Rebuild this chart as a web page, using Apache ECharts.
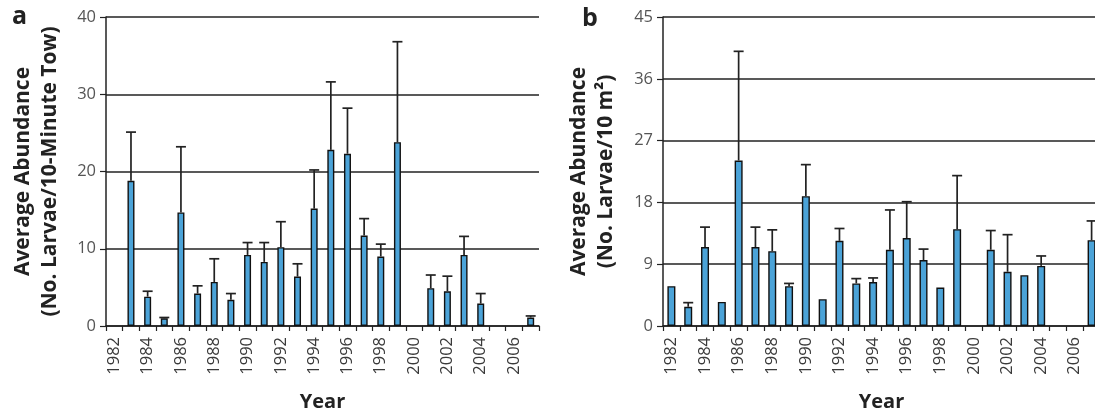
<!DOCTYPE html>
<html>
<head>
<meta charset="utf-8">
<script src="https://cdn.jsdelivr.net/npm/echarts@6/dist/echarts.min.js"></script>
<style>html,body{margin:0;padding:0;background:#fff}#c{width:1095px;height:417px}</style>
</head>
<body>
<div id="c"></div>
<script>
var years = ['1982','1983','1984','1985','1986','1987','1988','1989','1990','1991','1992','1993','1994','1995','1996','1997','1998','1999','2000','2001','2002','2003','2004','2005','2006','2007'];
var aMean = [null,18.8,3.8,1.0,14.7,4.2,5.7,3.4,9.2,8.3,10.2,6.4,15.2,22.8,22.3,11.7,9.0,23.8,null,4.9,4.5,9.2,2.9,null,null,1.1];
var aErr  = [null,6.3,0.7,0.1,8.5,1.0,3.0,0.8,1.6,2.5,3.3,1.65,5.0,8.8,5.9,2.2,1.6,13.0,null,1.7,1.95,2.4,1.3,null,null,0.2];
var bMean = [5.8,2.8,11.5,3.5,24.1,11.5,10.9,5.8,18.9,3.9,12.4,6.2,6.4,11.1,12.8,9.6,5.6,14.1,null,11.1,7.9,7.4,8.75,null,null,12.5];
var bErr  = [0,0.6,2.9,0,15.9,2.9,3.1,0.4,4.6,0,1.8,0.7,0.6,5.8,5.3,1.6,0,7.8,null,2.8,5.4,0,1.45,null,null,2.8];
var aTicks = {min:0, max:40, interval:10};
var bTicks = {min:0, max:45, interval:9};

var FONT = '"Open Sans", "DejaVu Sans", sans-serif';
var chart = echarts.init(document.getElementById('c'), null, {renderer:'canvas'});

function errData(mean, err){
  var out = [];
  for (var i=0;i<mean.length;i++){
    if (mean[i]!=null && err[i]!=null && err[i]>0) out.push([i, mean[i], mean[i]+err[i]]);
  }
  return out;
}
function errSeries(idx, mean, err){
  return {
    type:'custom', xAxisIndex:idx, yAxisIndex:idx, z:5,
    data: errData(mean, err),
    renderItem: function(params, api){
      var p0 = api.coord([api.value(0), api.value(1)]);
      var p1 = api.coord([api.value(0), api.value(2)]);
      var half = 5;
      var st = {stroke:'#222', lineWidth:1.7};
      return {type:'group', children:[
        {type:'line', shape:{x1:p0[0],y1:p0[1],x2:p1[0],y2:p1[1]}, style:st},
        {type:'line', shape:{x1:p1[0]-half,y1:p1[1],x2:p1[0]+half,y2:p1[1]}, style:st}
      ]};
    }
  };
}
function xAx(idx){
  return {
    type:'category', gridIndex:idx, data:years, boundaryGap:true,
    axisLine:{lineStyle:{color:'#222', width:1.5}},
    axisTick:{show:true, interval:0, length:5, inside:false, lineStyle:{color:'#222', width:1.2}},
    axisLabel:{interval:1, rotate:90, color:'#3a3a3a', fontSize:16.5, fontFamily:FONT, margin:11},
    name:'Year', nameLocation:'middle', nameGap:66,
    nameTextStyle:{fontSize:20, fontWeight:'bold', color:'#222', fontFamily:FONT}
  };
}
function yAx(idx, t, name, gap){
  return {
    type:'value', gridIndex:idx, min:t.min, max:t.max, interval:t.interval,
    axisLine:{show:true, lineStyle:{color:'#222', width:1.5}},
    axisTick:{show:true, length:6, lineStyle:{color:'#222', width:1.2}},
    splitLine:{show:true, lineStyle:{color:'#222', width:1.5}},
    axisLabel:{color:'#555', fontSize:16.5, fontFamily:FONT, margin:10},
    name:name, nameLocation:'middle', nameRotate:90, nameGap:gap,
    nameTextStyle:{fontSize:21, fontWeight:'bold', color:'#222', fontFamily:FONT, lineHeight:27, align:'center'}
  };
}
var barStyle = {color:'#4BA3D8', borderColor:'#111', borderWidth:1.4};

chart.setOption({
  animation:false,
  backgroundColor:'#fff',
  grid:[
    {left:106, top:17, width:433, height:309, containLabel:false, outerBoundsMode:'none'},
    {left:663, top:17, width:437, height:309, containLabel:false, outerBoundsMode:'none'}
  ],
  xAxis:[xAx(0), xAx(1)],
  yAxis:[
    yAx(0, aTicks, 'Average Abundance\n(No. Larvae/10-Minute Tow)', 42),
    yAx(1, bTicks, 'Average Abundance\n(No. Larvae/10 m²)', 43)
  ],
  graphic:[
    {type:'text', left:12, top:4, style:{text:'a', font:'bold 25px '+FONT, fill:'#222'}},
    {type:'text', left:582, top:6, style:{text:'b', font:'bold 25px '+FONT, fill:'#222'}}
  ],
  series:[
    {type:'bar', xAxisIndex:0, yAxisIndex:0, data:aMean, barWidth:7, itemStyle:barStyle},
    errSeries(0, aMean, aErr),
    {type:'bar', xAxisIndex:1, yAxisIndex:1, data:bMean, barWidth:8, itemStyle:barStyle},
    errSeries(1, bMean, bErr)
  ]
});
</script>
</body>
</html>
